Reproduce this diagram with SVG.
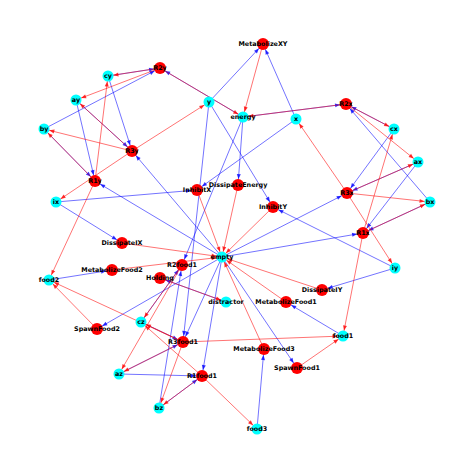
<svg xmlns="http://www.w3.org/2000/svg" width="474" height="474" viewBox="0 0 474 474">
<style>
.b{stroke:#0000ff;stroke-opacity:.55;stroke-width:1;marker-end:url(#ab)}
.r{stroke:#ff0000;stroke-opacity:.55;stroke-width:1;marker-end:url(#ar)}
.s circle{fill:#00ffff}
.q circle{fill:#ff0000}
text{font-family:"DejaVu Sans",sans-serif;font-weight:bold;font-size:6.4px;text-anchor:middle;dominant-baseline:central;fill:#000}
</style>
<defs>
<marker id="ab" markerUnits="userSpaceOnUse" markerWidth="6" markerHeight="4" refX="11" refY="2" orient="auto" overflow="visible"><path d="M0,0 L5,2 L0,4 Z" fill="#0000ff" fill-opacity="0.8"/></marker>
<marker id="ar" markerUnits="userSpaceOnUse" markerWidth="6" markerHeight="4" refX="10.5" refY="2" orient="auto" overflow="visible"><path d="M0,0 L5,2 L0,4 Z" fill="#ff0000" fill-opacity="0.8"/></marker>
</defs>
<rect width="474" height="474" fill="#fff"/>
<g id="connectors">
<line class="b" x1="209" y1="102" x2="263" y2="44"/>
<line class="b" x1="296" y1="119" x2="263" y2="44"/>
<line class="b" x1="243" y1="117" x2="238" y2="185"/>
<line class="b" x1="296" y1="119" x2="197" y2="190"/>
<line class="b" x1="56" y1="202" x2="197" y2="190"/>
<line class="b" x1="209" y1="102" x2="273" y2="207"/>
<line class="b" x1="395" y1="268" x2="273" y2="207"/>
<line class="b" x1="56" y1="202" x2="122" y2="243"/>
<line class="b" x1="395" y1="268" x2="322" y2="290"/>
<line class="b" x1="44" y1="129" x2="160" y2="68"/>
<line class="b" x1="243" y1="117" x2="160" y2="68"/>
<line class="b" x1="108" y1="76" x2="160" y2="68"/>
<line class="b" x1="108" y1="76" x2="132" y2="151"/>
<line class="b" x1="76" y1="100" x2="132" y2="151"/>
<line class="b" x1="222" y1="257" x2="132" y2="151"/>
<line class="b" x1="76" y1="100" x2="95" y2="181"/>
<line class="b" x1="44" y1="129" x2="95" y2="181"/>
<line class="b" x1="222" y1="257" x2="95" y2="181"/>
<line class="b" x1="430" y1="202" x2="346" y2="104"/>
<line class="b" x1="243" y1="117" x2="346" y2="104"/>
<line class="b" x1="394" y1="129" x2="346" y2="104"/>
<line class="b" x1="394" y1="129" x2="347" y2="193"/>
<line class="b" x1="418" y1="162" x2="347" y2="193"/>
<line class="b" x1="222" y1="257" x2="347" y2="193"/>
<line class="b" x1="418" y1="162" x2="363" y2="233"/>
<line class="b" x1="430" y1="202" x2="363" y2="233"/>
<line class="b" x1="222" y1="257" x2="363" y2="233"/>
<line class="b" x1="159" y1="408" x2="182" y2="265"/>
<line class="b" x1="243" y1="117" x2="182" y2="265"/>
<line class="b" x1="141" y1="322" x2="182" y2="265"/>
<line class="b" x1="141" y1="322" x2="183" y2="342"/>
<line class="b" x1="119" y1="374" x2="183" y2="342"/>
<line class="b" x1="222" y1="257" x2="183" y2="342"/>
<line class="b" x1="209" y1="102" x2="183" y2="342"/>
<line class="b" x1="119" y1="374" x2="202" y2="376"/>
<line class="b" x1="159" y1="408" x2="202" y2="376"/>
<line class="b" x1="222" y1="257" x2="202" y2="376"/>
<line class="b" x1="343" y1="336" x2="286" y2="302"/>
<line class="b" x1="49" y1="280" x2="112" y2="270"/>
<line class="b" x1="257" y1="429" x2="264" y2="349"/>
<line class="b" x1="222" y1="257" x2="297" y2="368"/>
<line class="b" x1="222" y1="257" x2="97" y2="329"/>
<line class="b" x1="226" y1="302" x2="160" y2="278"/>
<line class="r" x1="263" y1="44" x2="243" y2="117"/>
<line class="r" x1="238" y1="185" x2="222" y2="257"/>
<line class="r" x1="197" y1="190" x2="222" y2="257"/>
<line class="r" x1="273" y1="207" x2="222" y2="257"/>
<line class="r" x1="122" y1="243" x2="222" y2="257"/>
<line class="r" x1="322" y1="290" x2="222" y2="257"/>
<line class="r" x1="160" y1="68" x2="108" y2="76"/>
<line class="r" x1="160" y1="68" x2="76" y2="100"/>
<line class="r" x1="160" y1="68" x2="243" y2="117"/>
<line class="r" x1="132" y1="151" x2="76" y2="100"/>
<line class="r" x1="132" y1="151" x2="44" y2="129"/>
<line class="r" x1="132" y1="151" x2="209" y2="102"/>
<line class="r" x1="132" y1="151" x2="56" y2="202"/>
<line class="r" x1="95" y1="181" x2="44" y2="129"/>
<line class="r" x1="95" y1="181" x2="108" y2="76"/>
<line class="r" x1="95" y1="181" x2="49" y2="280"/>
<line class="r" x1="346" y1="104" x2="394" y2="129"/>
<line class="r" x1="346" y1="104" x2="418" y2="162"/>
<line class="r" x1="346" y1="104" x2="243" y2="117"/>
<line class="r" x1="347" y1="193" x2="418" y2="162"/>
<line class="r" x1="347" y1="193" x2="430" y2="202"/>
<line class="r" x1="347" y1="193" x2="296" y2="119"/>
<line class="r" x1="347" y1="193" x2="395" y2="268"/>
<line class="r" x1="363" y1="233" x2="430" y2="202"/>
<line class="r" x1="363" y1="233" x2="394" y2="129"/>
<line class="r" x1="363" y1="233" x2="343" y2="336"/>
<line class="r" x1="182" y1="265" x2="141" y2="322"/>
<line class="r" x1="182" y1="265" x2="119" y2="374"/>
<line class="r" x1="183" y1="342" x2="141" y2="322"/>
<line class="r" x1="183" y1="342" x2="119" y2="374"/>
<line class="r" x1="183" y1="342" x2="159" y2="408"/>
<line class="r" x1="183" y1="342" x2="343" y2="336"/>
<line class="r" x1="183" y1="342" x2="49" y2="280"/>
<line class="r" x1="202" y1="376" x2="159" y2="408"/>
<line class="r" x1="202" y1="376" x2="141" y2="322"/>
<line class="r" x1="202" y1="376" x2="257" y2="429"/>
<line class="r" x1="286" y1="302" x2="222" y2="257"/>
<line class="r" x1="112" y1="270" x2="222" y2="257"/>
<line class="r" x1="264" y1="349" x2="222" y2="257"/>
<line class="r" x1="297" y1="368" x2="343" y2="336"/>
<line class="r" x1="97" y1="329" x2="49" y2="280"/>
<line class="r" x1="160" y1="278" x2="226" y2="302"/>
</g>
<g id="n-MetabolizeXY" class="q"><circle cx="263" cy="44" r="6"/><text x="263" y="44">MetabolizeXY</text></g>
<g id="n-R2y" class="q"><circle cx="160" cy="68" r="6"/><text x="160" y="68">R2y</text></g>
<g id="n-cy" class="s"><circle cx="108" cy="76" r="5.5"/><text x="108" y="76">cy</text></g>
<g id="n-ay" class="s"><circle cx="76" cy="100" r="5.5"/><text x="76" y="100">ay</text></g>
<g id="n-y" class="s"><circle cx="209" cy="102" r="5.5"/><text x="209" y="102">y</text></g>
<g id="n-energy" class="s"><circle cx="243" cy="117" r="5.5"/><text x="243" y="117">energy</text></g>
<g id="n-x" class="s"><circle cx="296" cy="119" r="5.5"/><text x="296" y="119">x</text></g>
<g id="n-R2x" class="q"><circle cx="346" cy="104" r="6"/><text x="346" y="104">R2x</text></g>
<g id="n-cx" class="s"><circle cx="394" cy="129" r="5.5"/><text x="394" y="129">cx</text></g>
<g id="n-ax" class="s"><circle cx="418" cy="162" r="5.5"/><text x="418" y="162">ax</text></g>
<g id="n-by" class="s"><circle cx="44" cy="129" r="5.5"/><text x="44" y="129">by</text></g>
<g id="n-R3y" class="q"><circle cx="132" cy="151" r="6"/><text x="132" y="151">R3y</text></g>
<g id="n-R1y" class="q"><circle cx="95" cy="181" r="6"/><text x="95" y="181">R1y</text></g>
<g id="n-InhibitX" class="q"><circle cx="197" cy="190" r="6"/><text x="197" y="190">InhibitX</text></g>
<g id="n-DissipateEnergy" class="q"><circle cx="238" cy="185" r="6"/><text x="238" y="185">DissipateEnergy</text></g>
<g id="n-InhibitY" class="q"><circle cx="273" cy="207" r="6"/><text x="273" y="207">InhibitY</text></g>
<g id="n-R3x" class="q"><circle cx="347" cy="193" r="6"/><text x="347" y="193">R3x</text></g>
<g id="n-bx" class="s"><circle cx="430" cy="202" r="5.5"/><text x="430" y="202">bx</text></g>
<g id="n-R1x" class="q"><circle cx="363" cy="233" r="6"/><text x="363" y="233">R1x</text></g>
<g id="n-ix" class="s"><circle cx="56" cy="202" r="5.5"/><text x="56" y="202">ix</text></g>
<g id="n-DissipateIX" class="q"><circle cx="122" cy="243" r="6"/><text x="122" y="243">DissipateIX</text></g>
<g id="n-empty" class="s"><circle cx="222" cy="257" r="5.5"/><text x="222" y="257">empty</text></g>
<g id="n-R2food1" class="q"><circle cx="182" cy="265" r="6"/><text x="182" y="265">R2food1</text></g>
<g id="n-MetabolizeFood2" class="q"><circle cx="112" cy="270" r="6"/><text x="112" y="270">MetabolizeFood2</text></g>
<g id="n-Holding" class="q"><circle cx="160" cy="278" r="6"/><text x="160" y="278">Holding</text></g>
<g id="n-food2" class="s"><circle cx="49" cy="280" r="5.5"/><text x="49" y="280">food2</text></g>
<g id="n-DissipateIY" class="q"><circle cx="322" cy="290" r="6"/><text x="322" y="290">DissipateIY</text></g>
<g id="n-iy" class="s"><circle cx="395" cy="268" r="5.5"/><text x="395" y="268">iy</text></g>
<g id="n-distractor" class="s"><circle cx="226" cy="302" r="5.5"/><text x="226" y="302">distractor</text></g>
<g id="n-MetabolizeFood1" class="q"><circle cx="286" cy="302" r="6"/><text x="286" y="302">MetabolizeFood1</text></g>
<g id="n-SpawnFood2" class="q"><circle cx="97" cy="329" r="6"/><text x="97" y="329">SpawnFood2</text></g>
<g id="n-cz" class="s"><circle cx="141" cy="322" r="5.5"/><text x="141" y="322">cz</text></g>
<g id="n-R3food1" class="q"><circle cx="183" cy="342" r="6"/><text x="183" y="342">R3food1</text></g>
<g id="n-food1" class="s"><circle cx="343" cy="336" r="5.5"/><text x="343" y="336">food1</text></g>
<g id="n-MetabolizeFood3" class="q"><circle cx="264" cy="349" r="6"/><text x="264" y="349">MetabolizeFood3</text></g>
<g id="n-az" class="s"><circle cx="119" cy="374" r="5.5"/><text x="119" y="374">az</text></g>
<g id="n-R1food1" class="q"><circle cx="202" cy="376" r="6"/><text x="202" y="376">R1food1</text></g>
<g id="n-SpawnFood1" class="q"><circle cx="297" cy="368" r="6"/><text x="297" y="368">SpawnFood1</text></g>
<g id="n-bz" class="s"><circle cx="159" cy="408" r="5.5"/><text x="159" y="408">bz</text></g>
<g id="n-food3" class="s"><circle cx="257" cy="429" r="5.5"/><text x="257" y="429">food3</text></g>
</svg>
